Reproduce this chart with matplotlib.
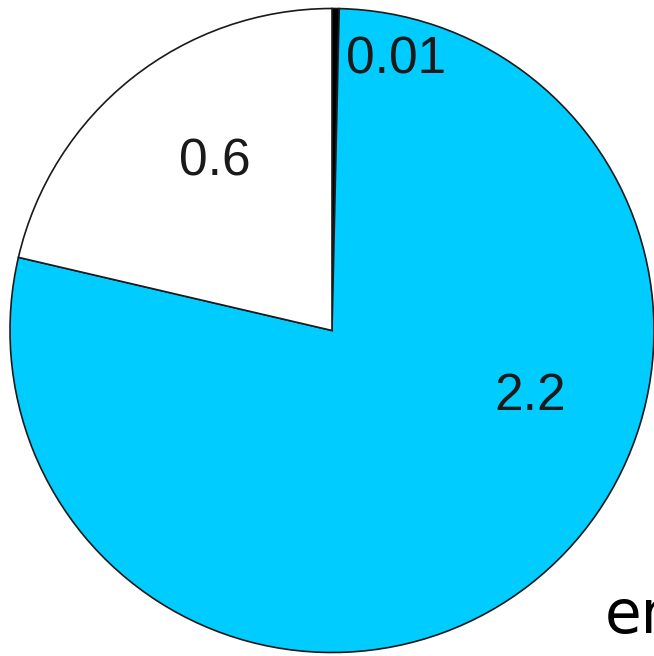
import matplotlib
matplotlib.use("Agg")
import matplotlib.pyplot as plt

values = [0.01, 2.2, 0.6]
labels = ["0.01", "2.2", "0.6"]
colors = ["#000000", "#00CCFF", "#FFFFFF"]
label_pos = [(396, 60), (530, 397), (215, 162)]  # pixel positions (x, y from top)

W, H = 654, 656
fig = plt.figure(figsize=(W / 100, H / 100), dpi=100)
ax = fig.add_axes([0, 0, 1, 1])
ax.set_xlim(0, W)
ax.set_ylim(0, H)
ax.axis("off")

cx, cy, r = 332, H - 330.5, 322
ax.pie(values, colors=colors, startangle=90, counterclock=False,
       center=(cx, cy), radius=r, frame=True,
       wedgeprops=dict(edgecolor="#1a1a1a", linewidth=1.2))
ax.set_xlim(0, W)
ax.set_ylim(0, H)
ax.axis("off")

for lab, (px, py) in zip(labels, label_pos):
    ax.text(px, H - py, lab, ha="center", va="center", fontsize=37,
            family="Liberation Sans", color="#1a1a1a")

ax.text(605, H - 633, "en", ha="left", va="baseline", fontsize=43,
        family="DejaVu Sans", color="#000000", clip_on=False)

fig.savefig("out.png", dpi=100)
